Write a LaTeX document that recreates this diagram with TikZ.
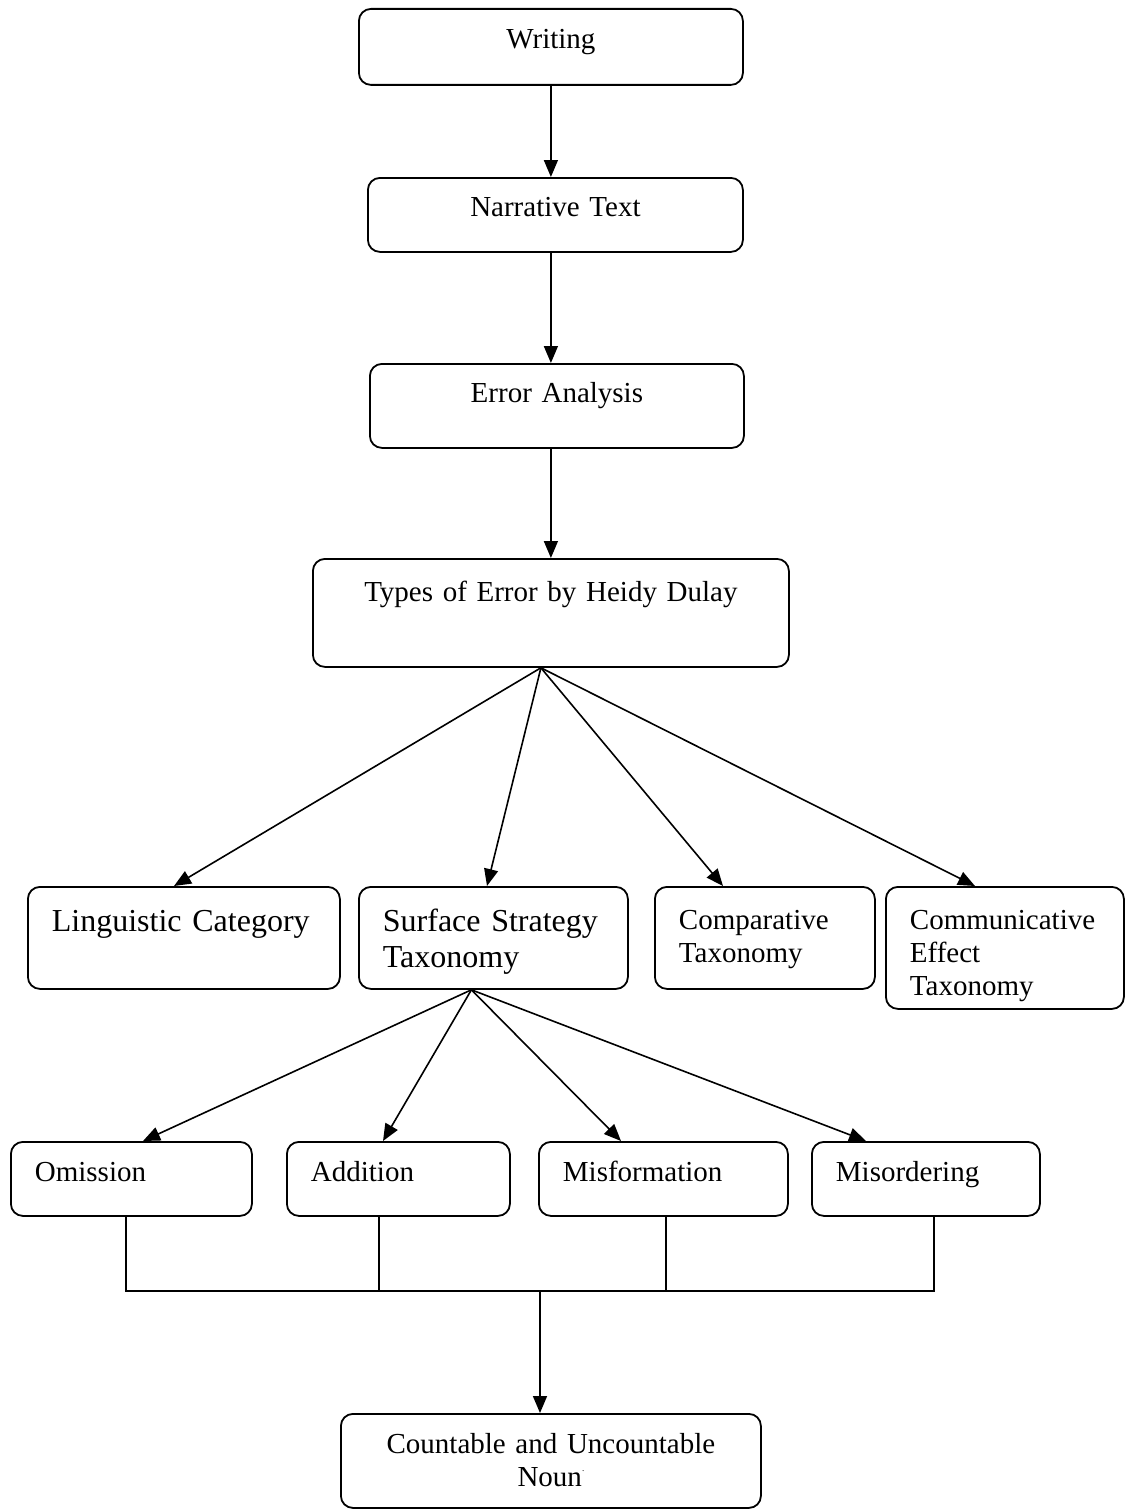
\documentclass[tikz,border=0pt]{standalone}
\usepackage{fontspec}
\setmainfont{Liberation Serif}
\usepackage{tikz}
\usetikzlibrary{arrows.meta,calc}
\newcommand{\boxfont}{\fontsize{29}{33}\selectfont}
\newcommand{\bigboxfont}{\fontsize{32}{36}\selectfont}

\begin{document}
\begin{tikzpicture}[x=1pt, y=-1pt,
    box/.style={rectangle, draw, rounded corners=12pt, line width=1.8pt, inner sep=0pt, anchor=north west, font=\boxfont},
    mid/.style={align=center},
    lft/.style={align=left, inner xsep=24pt},
    line/.style={draw, -{Triangle[length=17pt,width=14pt]}, line width=1.6pt},
    link/.style={draw, line width=1.6pt}]

    \useasboundingbox (0,0) rectangle (1125,1509);

    % top chain
    \node [box, mid, text width=384pt, text height=40pt, text depth=36pt] (writing) at (358,8) {Writing};
    \node [box, mid, text width=375pt, text height=39pt, text depth=35pt] (narr) at (367,177) {Narrative Text};
    \node [box, mid, text width=374pt, text height=39pt, text depth=45pt] (erran) at (369,363) {Error Analysis};
    \node [box, mid, text width=476pt, text height=43pt, text depth=65pt] (types) at (312,558) {Types of Error by Heidy Dulay};

    \draw [line] (writing.south) -- (writing.south |- narr.north);
    \draw [line] (writing.south |- narr.south) -- (writing.south |- erran.north);
    \draw [line] (writing.south |- erran.south) -- (writing.south |- types.north);

    % types of error
    \node [box, lft, font=\bigboxfont, text width=264pt, text height=45pt, text depth=57pt] (ling) at (27,886) {Linguistic Category};
    \node [box, lft, font=\bigboxfont, text width=221pt, text height=45pt, text depth=57pt] (surf) at (358,886) {Surface Strategy\\Taxonomy};
    \node [box, lft, text width=172pt, text height=43pt, text depth=59pt] (comp) at (654,886) {Comparative\\Taxonomy};
    \node [box, lft, text width=190pt, text height=43pt, text depth=79pt] (comm) at (885,886) {Communicative\\Effect\\Taxonomy};

    \coordinate (tfan) at ($(types.south)+(-10,0)$);
    \draw [line] (tfan) -- ($(ling.north west)+(147,0)$);
    \draw [line] (tfan) -- ($(surf.north west)+(129,0)$);
    \draw [line] (tfan) -- ($(comp.north west)+(69,0)$);
    \draw [line] (tfan) -- ($(comm.north west)+(90,0)$);

    % surface strategy taxonomy
    \node [box, lft, text width=193pt, text height=40pt, text depth=34pt] (omis) at (10,1141) {Omission};
    \node [box, lft, text width=175pt, text height=40pt, text depth=34pt] (addi) at (286,1141) {Addition};
    \node [box, lft, text width=201pt, text height=40pt, text depth=34pt] (misf) at (538,1141) {Misformation};
    \node [box, lft, text width=180pt, text height=40pt, text depth=34pt] (miso) at (811,1141) {Misordering};

    \coordinate (sfan) at ($(surf.south)+(-22,0)$);
    \draw [line] (sfan) -- ($(omis.north west)+(133,0)$);
    \draw [line] (sfan) -- ($(addi.north west)+(97,0)$);
    \draw [line] (sfan) -- ($(misf.north west)+(83,0)$);
    \draw [line] (sfan) -- ($(miso.north west)+(55,0)$);

    % joined to the noun box
    \node [box, mid, text width=420pt, text height=40pt, text depth=54pt] (count) at (340,1413) {Countable and Uncountable\\Noun{\fontsize{9}{9}\selectfont\raisebox{15pt}{.}}};

    \coordinate (bus) at (540,1291);
    \draw [link] ($(omis.south west)+(116,0)$) |- (bus);
    \draw [link] ($(addi.south west)+(93,0)$) |- (bus);
    \draw [link] ($(misf.south west)+(128,0)$) |- (bus);
    \draw [link] ($(miso.south west)+(123,0)$) |- (bus);
    \draw [line] (bus) -- (bus |- count.north);
\end{tikzpicture}
\end{document}
